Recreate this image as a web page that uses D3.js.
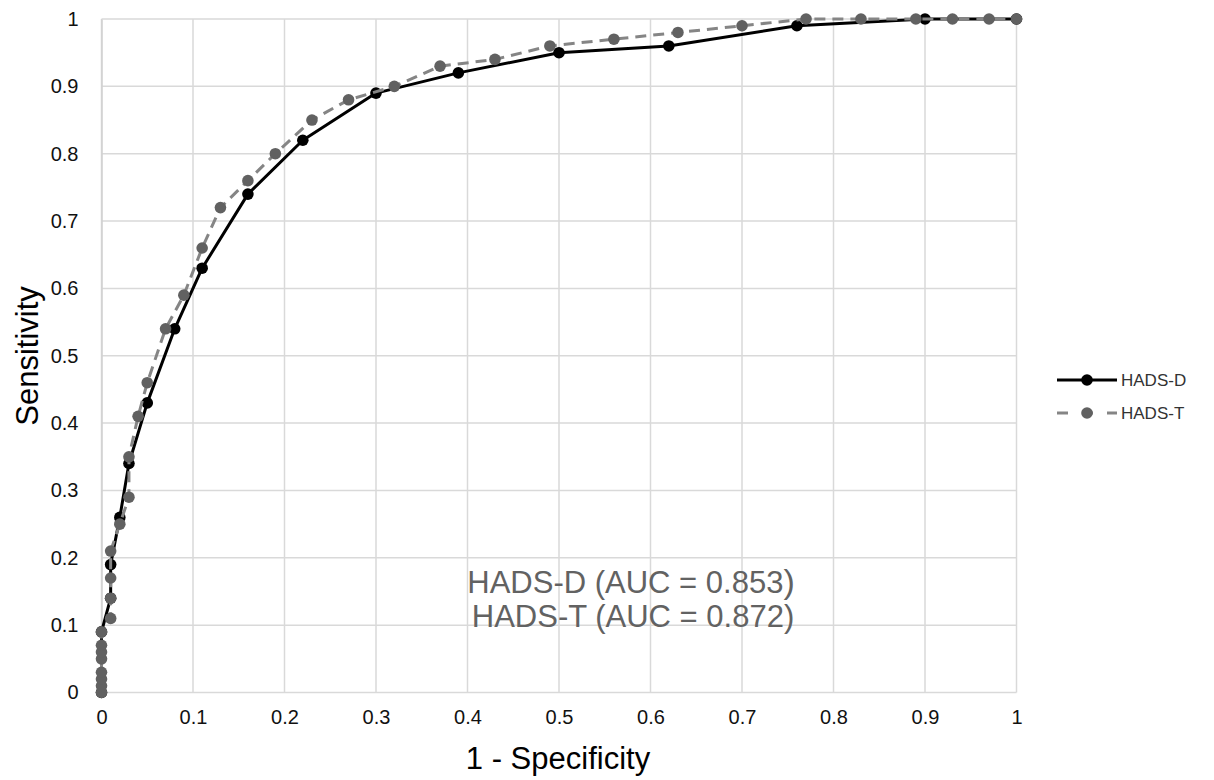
<!DOCTYPE html>
<html>
<head>
<meta charset="utf-8">
<script src="https://cdn.jsdelivr.net/npm/d3@7"></script>
<style>
  body { margin: 0; background: #fff; }
  svg text { font-family: "Liberation Sans", Arial, sans-serif; }
</style>
</head>
<body>
<svg width="1214" height="780"></svg>
<script>
// ROC points (1 - specificity, sensitivity)
var hadsD_x = [0, 0, 0.01, 0.01, 0.02, 0.03, 0.05, 0.08, 0.11, 0.16, 0.22, 0.30, 0.39, 0.50, 0.62, 0.76, 0.90, 1];
var hadsD_y = [0, 0.09, 0.14, 0.19, 0.26, 0.34, 0.43, 0.54, 0.63, 0.74, 0.82, 0.89, 0.92, 0.95, 0.96, 0.99, 1, 1];

var hadsT_x = [0, 0, 0, 0, 0, 0, 0, 0, 0.01, 0.01, 0.01, 0.01, 0.02, 0.03, 0.03, 0.04, 0.05, 0.07, 0.09, 0.11, 0.13, 0.16, 0.19, 0.23, 0.27, 0.32, 0.37, 0.43, 0.49, 0.56, 0.63, 0.70, 0.77, 0.83, 0.89, 0.93, 0.97, 1];
var hadsT_y = [0, 0.01, 0.02, 0.03, 0.05, 0.06, 0.07, 0.09, 0.11, 0.14, 0.17, 0.21, 0.25, 0.29, 0.35, 0.41, 0.46, 0.54, 0.59, 0.66, 0.72, 0.76, 0.80, 0.85, 0.88, 0.90, 0.93, 0.94, 0.96, 0.97, 0.98, 0.99, 1, 1, 1, 1, 1, 1];

var tickValues = [0, 0.1, 0.2, 0.3, 0.4, 0.5, 0.6, 0.7, 0.8, 0.9, 1];
var seriesNames = ['HADS-D', 'HADS-T'];
var aucLabels = ['HADS-D (AUC = 0.853', 'HADS-T (AUC = 0.872)'];

var svg = d3.select('svg');
var x = d3.scaleLinear().domain([0, 1]).range([101.5, 1016.5]);
var y = d3.scaleLinear().domain([0, 1]).range([692.5, 19]);
var fmt = function (d) { return d === 0 ? '0' : d === 1 ? '1' : d3.format('.1f')(d); };

// gridlines
var grid = svg.append('g');
grid.selectAll('line.v').data(tickValues).enter().append('line')
  .attr('x1', x).attr('x2', x).attr('y1', y(0)).attr('y2', y(1))
  .attr('stroke', '#d9d9d9').attr('stroke-width', 1.5);
grid.selectAll('line.h').data(tickValues).enter().append('line')
  .attr('x1', x(0)).attr('x2', x(1)).attr('y1', y).attr('y2', y)
  .attr('stroke', '#d9d9d9').attr('stroke-width', 1.5);

// axes (labels only, Excel style)
var xAxis = svg.append('g').attr('transform', 'translate(0,' + y(0) + ')')
  .call(d3.axisBottom(x).tickValues(tickValues).tickFormat(fmt).tickSize(0).tickPadding(17));
var yAxis = svg.append('g').attr('transform', 'translate(' + x(0) + ',0)')
  .call(d3.axisLeft(y).tickValues(tickValues).tickFormat(fmt).tickSize(0).tickPadding(23));
[xAxis, yAxis].forEach(function (a) {
  a.select('.domain').attr('stroke', '#d0d0d0').attr('stroke-width', 1.5);
  a.selectAll('text').attr('font-size', 20).attr('fill', '#111')
    .style('font-family', '"Liberation Sans", Arial, sans-serif');
});
xAxis.select('.domain').remove();

var line = d3.line().x(function (d) { return x(d[0]); }).y(function (d) { return y(d[1]); });
var dPts = hadsD_x.map(function (v, i) { return [v, hadsD_y[i]]; });
var tPts = hadsT_x.map(function (v, i) { return [v, hadsT_y[i]]; });

// HADS-D (solid black)
svg.append('path').datum(dPts).attr('d', line).attr('fill', 'none')
  .attr('stroke', '#000').attr('stroke-width', 3).attr('stroke-linejoin', 'round');
svg.append('g').selectAll('circle').data(dPts).enter().append('circle')
  .attr('cx', function (d) { return x(d[0]); }).attr('cy', function (d) { return y(d[1]); })
  .attr('r', 5.8).attr('fill', '#000');

// HADS-T (dashed grey)
svg.append('path').datum(tPts).attr('d', line).attr('fill', 'none')
  .attr('stroke', '#858585').attr('stroke-width', 3).attr('stroke-dasharray', '11,7');
svg.append('g').selectAll('circle').data(tPts).enter().append('circle')
  .attr('cx', function (d) { return x(d[0]); }).attr('cy', function (d) { return y(d[1]); })
  .attr('r', 5.8).attr('fill', '#616161');

// AUC annotation
var ann = svg.append('text').attr('text-anchor', 'middle').attr('fill', '#626262').attr('font-size', 31);
ann.append('tspan').attr('x', 631).attr('y', 593).text(aucLabels[0])
  .append('tspan').attr('font-size', 34).text(')');
svg.append('text').attr('text-anchor', 'middle').attr('fill', '#626262').attr('font-size', 31)
  .attr('x', 633).attr('y', 627).text(aucLabels[1]);

// axis titles
svg.append('text').attr('x', 558).attr('y', 769).attr('text-anchor', 'middle')
  .attr('font-size', 31).attr('fill', '#000').text('1 - Specificity');
svg.append('text').attr('transform', 'translate(38,356) rotate(-90)').attr('text-anchor', 'middle')
  .attr('font-size', 31).attr('fill', '#000').text('Sensitivity');

// legend
var leg = svg.append('g');
var legY = [380, 413];
leg.append('line').attr('x1', 1057).attr('x2', 1117).attr('y1', legY[0]).attr('y2', legY[0])
  .attr('stroke', '#000').attr('stroke-width', 3);
leg.append('circle').attr('cx', 1087).attr('cy', legY[0]).attr('r', 5.8).attr('fill', '#000');
leg.append('line').attr('x1', 1057).attr('x2', 1117).attr('y1', legY[1]).attr('y2', legY[1])
  .attr('stroke', '#858585').attr('stroke-width', 3).attr('stroke-dasharray', '11,14');
leg.append('circle').attr('cx', 1087).attr('cy', legY[1]).attr('r', 5.8).attr('fill', '#616161');
leg.selectAll('text').data(seriesNames).enter().append('text')
  .attr('x', 1121).attr('y', function (d, i) { return legY[i] + 6; })
  .attr('font-size', 17).attr('fill', '#333').text(function (d) { return d; });
</script>
</body>
</html>
